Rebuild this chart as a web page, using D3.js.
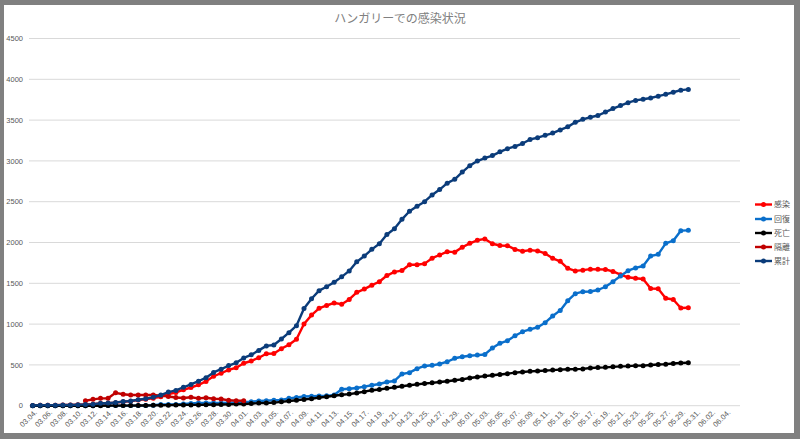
<!DOCTYPE html>
<html><head><meta charset="utf-8">
<script src="https://cdn.jsdelivr.net/npm/d3@7"></script>
<style>html,body{margin:0;padding:0;background:#808080;}svg{display:block;}</style>
</head><body>
<svg id="chart" width="800" height="439"></svg>
<script>
const dates = ["03.04.","03.05.","03.06.","03.07.","03.08.","03.09.","03.10.","03.11.","03.12.","03.13.","03.14.","03.15.","03.16.","03.17.","03.18.","03.19.","03.20.","03.21.","03.22.","03.23.","03.24.","03.25.","03.26.","03.27.","03.28.","03.29.","03.30.","03.31.",
"04.01.","04.02.","04.03.","04.04.","04.05.","04.06.","04.07.","04.08.","04.09.","04.10.","04.11.","04.12.","04.13.","04.14.","04.15.","04.16.","04.17.","04.18.","04.19.","04.20.","04.21.","04.22.","04.23.","04.24.","04.25.","04.26.","04.27.","04.28.","04.29.","04.30.",
"05.01.","05.02.","05.03.","05.04.","05.05.","05.06.","05.07.","05.08.","05.09.","05.10.","05.11.","05.12.","05.13.","05.14.","05.15.","05.16.","05.17.","05.18.","05.19.","05.20.","05.21.","05.22.","05.23.","05.24.","05.25.","05.26.","05.27.","05.28.","05.29.","05.30.","05.31.",
"06.01.","06.02.","06.03.","06.04."];

const infected = [2,7,7,7,9,9,13,16,19,29,30,37,48,56,69,80,92,109,144,162,195,223,256,298,361,398,439,465,520,548,588,637,640,699,747,814,1001,1110,1193,1228,1259,1244,1302,1390,1429,1477,1519,1595,1640,1656,1728,1727,1741,1808,1847,1888,1882,1941,1990,2027,2044,1985,1963,1961,1915,1893,1906,1897,1866,1806,1770,1684,1652,1661,1673,1671,1670,1645,1606,1574,1562,1553,1437,1433,1317,1302,1198,1200];
const recovered = [0,0,0,0,0,0,0,0,0,1,1,1,1,1,1,2,7,16,16,16,21,28,34,34,34,34,37,40,44,49,58,62,66,71,90,100,112,115,118,121,131,201,208,217,233,250,266,290,303,389,405,454,487,495,511,539,581,600,612,620,628,707,765,797,858,907,936,961,1017,1099,1168,1287,1373,1397,1400,1418,1458,1520,1590,1654,1688,1712,1835,1855,1990,2022,2145,2149];
const deaths = [0,0,0,0,0,0,0,0,0,0,1,1,1,1,3,3,4,6,7,9,10,10,10,11,13,15,16,20,21,26,32,34,38,47,58,66,77,85,99,109,122,134,142,156,172,189,199,213,225,239,250,262,272,280,291,300,312,322,340,351,363,373,383,392,405,413,421,426,430,436,442,446,448,451,462,467,470,476,482,485,491,491,499,505,509,517,524,527];
const isolated = [null,null,null,null,null,null,null,61,78,90,92,158,140,131,131,131,131,123,112,100,95,104,90,98,85,82,66,62,61];
const total = [2,7,7,7,9,9,13,16,19,30,32,39,50,58,73,85,103,131,167,187,226,261,300,343,408,447,492,525,585,623,678,733,744,817,895,980,1190,1310,1410,1458,1512,1579,1652,1763,1834,1916,1984,2098,2168,2284,2383,2443,2500,2583,2649,2727,2775,2863,2942,2998,3035,3065,3111,3150,3178,3213,3263,3284,3313,3341,3380,3417,3473,3509,3535,3556,3598,3641,3678,3713,3741,3756,3771,3793,3816,3841,3867,3876];

const seriesNames = ["感染","回復","死亡","隔離","累計"];
const seriesColors = ["#ff0000","#0a6fcb","#000000","#c00000","#0b3c7a"];
const yTicks = [0,500,1000,1500,2000,2500,3000,3500,4000,4500];
const title = "ハンガリーでの感染状況";

const seriesData = [infected, recovered, deaths, isolated, total];

const svg = d3.select("#chart");
svg.append("rect").attr("x",0).attr("y",0).attr("width",800).attr("height",439).attr("fill","#808080");
svg.append("rect").attr("x",4).attr("y",5).attr("width",790).attr("height",428).attr("fill","#ffffff");

const x = d3.scalePoint().domain(dates).range([32.7, 32.7 + 92*7.536]);
const y = d3.scaleLinear().domain([0,4500]).range([405.7, 38.5]);

// gridlines
svg.append("g").selectAll("line").data(yTicks).join("line")
  .attr("x1",29).attr("x2",740)
  .attr("y1",d=>y(d)).attr("y2",d=>y(d))
  .attr("stroke","#d9d9d9").attr("stroke-width",1);

// y labels
svg.append("g").selectAll("text").data(yTicks).join("text")
  .attr("x",23).attr("y",d=>y(d)).attr("dy","0.35em")
  .attr("text-anchor","end")
  .attr("font-family","Liberation Sans, Arial, sans-serif").attr("font-size",7.5)
  .attr("fill","#595959").text(d=>d);

// x labels
const xLabels = dates.filter((d,i)=>i%2===0);
svg.append("g").selectAll("text").data(xLabels).join("text")
  .attr("transform",d=>`translate(${x(d)+3},${411}) rotate(-45)`)
  .attr("text-anchor","end").attr("dy","0.35em")
  .attr("font-family","Liberation Sans, Arial, sans-serif").attr("font-size",7.5)
  .attr("fill","#595959").text(d=>d);

// title
svg.append("text").attr("x",400).attr("y",23).attr("text-anchor","middle")
  .attr("font-family","'Noto Sans CJK JP', sans-serif").attr("font-size",12)
  .attr("fill","#808080").text(title);

// series
seriesData.forEach((vals,si)=>{
  const pts = vals.map((v,i)=>({d:dates[i], v:v})).filter(p=>p.v!==null && p.v!==undefined);
  const line = d3.line().x(p=>x(p.d)).y(p=>y(p.v));
  const g = svg.append("g");
  g.append("path").attr("d",line(pts)).attr("fill","none")
    .attr("stroke",seriesColors[si]).attr("stroke-width",2.4).attr("stroke-linejoin","round");
  g.selectAll("circle").data(pts).join("circle")
    .attr("cx",p=>x(p.d)).attr("cy",p=>y(p.v)).attr("r",2.5)
    .attr("fill",seriesColors[si]);
});

// legend
const legY = [204.5,219,233,247,261];
const leg = svg.append("g");
seriesNames.forEach((n,i)=>{
  leg.append("line").attr("x1",755).attr("x2",772).attr("y1",legY[i]).attr("y2",legY[i])
    .attr("stroke",seriesColors[i]).attr("stroke-width",2.4);
  leg.append("circle").attr("cx",763.5).attr("cy",legY[i]).attr("r",2.5).attr("fill",seriesColors[i]);
  leg.append("text").attr("x",774).attr("y",legY[i]).attr("dy","0.35em")
    .attr("font-family","'Noto Sans CJK JP', sans-serif").attr("font-size",8)
    .attr("fill","#595959").text(n);
});
</script>
</body></html>
